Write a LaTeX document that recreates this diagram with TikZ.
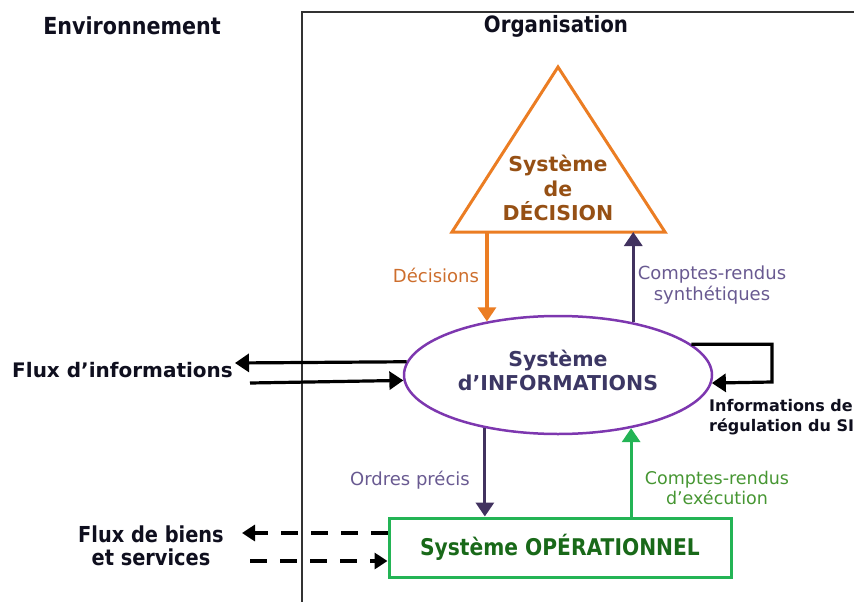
\documentclass[tikz,border=0pt]{standalone}
\usepackage{fontspec}
\setmainfont{DejaVu Sans}
\newfontfamily\condfont[FakeStretch=0.88]{DejaVu Sans}
\usetikzlibrary{arrows.meta,shapes.geometric}
\definecolor{orangeL}{RGB}{235,125,35}
\definecolor{orangeT}{RGB}{205,110,45}
\definecolor{brownT}{RGB}{150,80,20}
\definecolor{purpleL}{RGB}{125,55,175}
\definecolor{slateT}{RGB}{60,55,100}
\definecolor{darkP}{RGB}{65,50,95}
\definecolor{purpleT}{RGB}{105,90,145}
\definecolor{greenL}{RGB}{35,180,85}
\definecolor{greenT}{RGB}{70,150,50}
\definecolor{greenD}{RGB}{25,105,25}
\definecolor{blackT}{RGB}{15,15,30}
\definecolor{frameC}{RGB}{50,50,50}
\tikzset{
  tip/.style={-{Triangle[length=14pt,width=18pt]}},
  flow/.style={tip, line width=3.2pt},
  dashflow/.style={-{Triangle[length=13pt,width=16pt]}, line width=4pt, dash pattern=on 17pt off 13pt},
  condbold/.style={font=\condfont\bfseries\fontsize{22}{23}\selectfont, text=blackT, align=center, inner sep=0pt},
  boldlab/.style={font=\bfseries\fontsize{20.5}{24}\selectfont, align=center, inner sep=0pt},
  reglab/.style={font=\fontsize{18}{21}\selectfont, align=center, inner sep=0pt},
}
\begin{document}
\begin{tikzpicture}[x=1pt,y=-1pt]
\useasboundingbox (0,0) rectangle (854,602);
% frame of the organisation
\coordinate (fBot) at (302,602);
\coordinate (fCor) at (302,12);
\coordinate (fRt) at (854,12);
\draw[frameC, line width=1.5pt] (fBot) -- (fCor) -- (fRt);
\node[condbold, font=\condfont\bfseries\fontsize{23.5}{25}\selectfont] (env) at (132,26) {Environnement};
\node[condbold, font=\condfont\bfseries\fontsize{22.5}{24}\selectfont] (org) at (556,26) {Organisation};
% decision triangle
\coordinate (tA) at (558,67);
\coordinate (tB) at (452,232);
\coordinate (tC) at (665,232);
\draw[orangeL, line width=3pt, line join=miter] (tA) -- (tB) -- (tC) -- cycle;
\node[boldlab, text=brownT, font=\bfseries\fontsize{20.5}{24.5}\selectfont] (dec) at (558,188) {Système\\de\\DÉCISION};
% information system ellipse
\node[ellipse, draw=purpleL, line width=2.5pt, minimum width=308pt, minimum height=118pt, inner sep=0pt] (si) at (558,375) {};
\node[boldlab, text=slateT] (sitext) at (558,370) {Système\\d’INFORMATIONS};
% operational system box
\node[draw=greenL, line width=3pt, minimum width=342pt, minimum height=59pt, inner sep=0pt,
      font=\condfont\bfseries\fontsize{23}{24}\selectfont, text=greenD] (op) at (560,547.5) {Système OPÉRATIONNEL};
% decision arrows
\draw[flow, orangeL] (si.143.57 |- tB) -- (si.143.57);
\node[reglab, text=orangeT] (ldec) at (436,275) {Décisions};
\draw[flow, darkP] (si.35.46) -- (si.35.46 |- tB);
\node[reglab, text=purpleT] (lsyn) at (712,285.5) {Comptes-rendus\\synthétiques};
% operational arrows
\draw[flow, darkP] (si.216.9) -- (si.216.9 |- op.north);
\node[reglab, text=purpleT] (lord) at (410,480) {Ordres précis};
\draw[flow, greenL] (si.324.54 |- op.north) -- (si.324.54);
\node[reglab, text=greenT, font=\fontsize{17.5}{20}\selectfont] (lexe) at (717,488) {Comptes-rendus\\d’exécution};
% self loop
\coordinate (loop) at (772,382);
\draw[flow, black] (si.13.7) -| (loop) -- (si.357.4);
\node[boldlab, text=blackT, font=\bfseries\fontsize{16}{19.5}\selectfont, anchor=west, align=left] (lreg) at (709,417) {Informations de\\régulation du SI};
% information flows with the environment
\coordinate (fi1) at (235,363);
\coordinate (fi2) at (250,383);
\draw[flow, black] (si.175.48) -- (fi1);
\draw[flow, black] (fi2) -- (si.182.98);
\node[boldlab, text=blackT, anchor=east, font=\bfseries\fontsize{20}{24}\selectfont] (lfi) at (233,370) {Flux d’informations};
% goods and services flows
\coordinate (d1) at (242,533);
\coordinate (d2) at (250,561);
\draw[dashflow, black] (op.west |- d1) -- (d1);
\draw[dashflow, black] (d2) -- (op.west |- d2);
\node[condbold] (lfb) at (151,545.5) {Flux de biens\\et services};
\end{tikzpicture}
\end{document}
